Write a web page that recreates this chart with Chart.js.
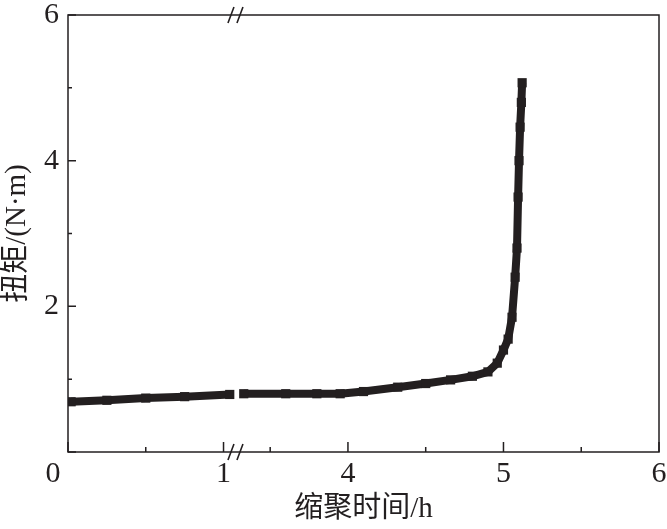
<!DOCTYPE html>
<html>
<head>
<meta charset="utf-8">
<script src="https://cdn.jsdelivr.net/npm/chart.js@4/dist/chart.umd.min.js"></script>
<style>
  html, body { margin: 0; padding: 0; background: #fff; }
  #wrap { width: 667px; height: 529px; }
</style>
</head>
<body>
<div id="wrap"><canvas id="torqueChart"></canvas></div>
<script>
// Polycondensation time (h) and torque (N·m)
const hours  = [0.02, 0.25, 0.5, 0.75, 1.04, 2.0, 3.33, 3.6, 3.8, 3.95, 4.1, 4.32, 4.5, 4.66, 4.8, 4.9, 4.96, 5.0, 5.03, 5.055, 5.075, 5.087, 5.094, 5.1, 5.107, 5.115, 5.12];
const torque = [0.69, 0.71, 0.74, 0.76, 0.79, null, 0.8, 0.8, 0.8, 0.8, 0.83, 0.89, 0.94, 0.99, 1.04, 1.1, 1.22, 1.4, 1.55, 1.85, 2.4, 2.8, 3.5, 4.0, 4.46, 4.8, 5.07];

// Broken x axis: 1 h .. 3.3 h is cut out
const breakShift = 2.2;
const breakAt = 1.08;
const majorHours = [0, 1, 4, 5, 6];
const minorHours = [0.5, 3.5, 4.5, 5.5];
const yMajor = [0, 2, 4, 6];
const yMinor = [1, 3, 5];
const yLabels = [2, 4, 6];

const ink = '#231f20';
const serif = '"Liberation Serif", "Times New Roman", "Noto Sans CJK SC", serif';

// Map real hours onto the compressed axis
function toAxis(h) {
  return h > 2 ? h - breakShift : h;
}

function labelFor(v) {
  const hit = majorHours.find(h => Math.abs(toAxis(h) - v) < 1e-6);
  if (hit === undefined) return '';
  return hit === 0 ? '0    ' : String(hit);
}

// Frame, inward ticks and break marks
const framePlugin = {
  id: 'frame',
  afterDraw(chart) {
    const { ctx, chartArea: a, scales } = chart;
    ctx.save();
    ctx.strokeStyle = ink;
    ctx.lineWidth = 1.5;
    ctx.strokeRect(a.left, a.top, a.right - a.left, a.bottom - a.top);

    ctx.beginPath();
    majorHours.forEach(h => {
      const px = scales.x.getPixelForValue(toAxis(h));
      ctx.moveTo(px, a.bottom); ctx.lineTo(px, a.bottom - 10);
    });
    minorHours.forEach(h => {
      const px = scales.x.getPixelForValue(toAxis(h));
      ctx.moveTo(px, a.bottom); ctx.lineTo(px, a.bottom - 5);
    });
    yMajor.forEach(v => {
      const py = scales.y.getPixelForValue(v);
      ctx.moveTo(a.left, py); ctx.lineTo(a.left + 8, py);
    });
    yMinor.forEach(v => {
      const py = scales.y.getPixelForValue(v);
      ctx.moveTo(a.left, py); ctx.lineTo(a.left + 4, py);
    });
    ctx.stroke();

    // "//" marks on top and bottom edges
    const bx = scales.x.getPixelForValue(breakAt);
    ctx.lineWidth = 1.6;
    ctx.beginPath();
    [a.top, a.bottom].forEach(y => {
      ctx.moveTo(bx - 8, y + 8); ctx.lineTo(bx - 2, y - 8);
      ctx.moveTo(bx + 1, y + 8); ctx.lineTo(bx + 7, y - 8);
    });
    ctx.stroke();
    ctx.restore();
  }
};

const points = hours.map((h, i) => ({ x: toAxis(h), y: torque[i] }));

new Chart(document.getElementById('torqueChart'), {
  type: 'line',
  data: {
    datasets: [{
      data: points,
      borderColor: ink,
      backgroundColor: ink,
      borderWidth: 8,
      pointStyle: 'rect',
      pointRadius: 6.5,
      pointBorderWidth: 0,
      spanGaps: false,
      tension: 0
    }]
  },
  options: {
    responsive: true,
    maintainAspectRatio: false,
    animation: false,
    events: [],
    layout: { autoPadding: false, padding: { left: 0, right: 8, top: 15, bottom: 0 } },
    plugins: { legend: { display: false }, tooltip: { enabled: false } },
    scales: {
      x: {
        type: 'linear',
        min: 0,
        max: toAxis(6),
        grid: { display: false, drawTicks: false },
        border: { display: false },
        afterBuildTicks(scale) {
          scale.ticks = majorHours.map(h => ({ value: toAxis(h) }));
        },
        afterFit(scale) {
          scale.height = 77;
          scale.paddingLeft = 0;
          scale.paddingRight = 0;
        },
        ticks: {
          color: ink,
          font: { family: serif, size: 30 },
          padding: 4,
          maxRotation: 0,
          autoSkip: false,
          callback: v => labelFor(v)
        },
        title: {
          display: true,
          text: '缩聚时间/h',
          color: ink,
          font: { family: serif, size: 29 },
          padding: { top: 0, bottom: 2 }
        }
      },
      y: {
        min: 0,
        max: 6,
        grid: { display: false, drawTicks: false },
        border: { display: false },
        afterBuildTicks(scale) {
          scale.ticks = yLabels.map(v => ({ value: v }));
        },
        afterFit(scale) {
          scale.width = 68;
          scale.paddingTop = 0;
          scale.paddingBottom = 0;
        },
        ticks: {
          color: ink,
          font: { family: serif, size: 30 },
          padding: 9,
          callback: v => String(v)
        },
        title: {
          display: true,
          text: '扭矩/(N·m)',
          color: ink,
          font: { family: serif, size: 29 },
          padding: { top: 0, bottom: 0 }
        }
      }
    }
  },
  plugins: [framePlugin]
});
</script>
</body>
</html>
